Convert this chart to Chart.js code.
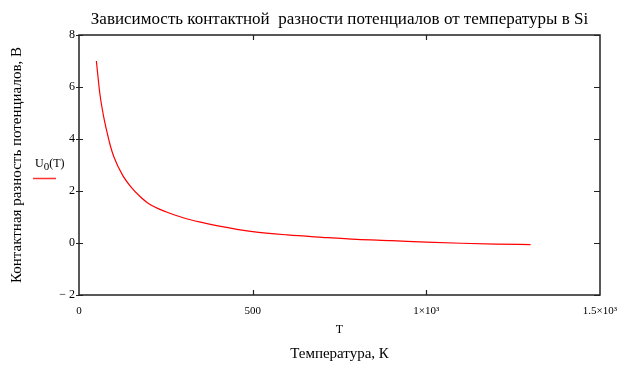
<!DOCTYPE html>
<html>
<head>
<meta charset="utf-8">
<script src="https://cdn.jsdelivr.net/npm/chart.js@4/dist/chart.umd.min.js"></script>
<style>
  html, body { margin: 0; padding: 0; background: #fff; }
  canvas { display: block; }
</style>
</head>
<body>
<canvas id="c" width="642" height="370"></canvas>
<script>
// ---- data ----
const temperatures = [50, 60, 70, 80, 90, 100, 125, 150, 175, 200, 250, 300, 350, 400, 500, 600, 700, 800, 900, 1000, 1100, 1200, 1300];
const u0Values     = [7.0, 5.75, 4.93, 4.3, 3.75, 3.33, 2.62, 2.15, 1.8, 1.52, 1.2, 0.97, 0.8, 0.66, 0.44, 0.31, 0.22, 0.14, 0.09, 0.03, -0.01, -0.04, -0.06];
const xTickValues  = [0, 500, 1000, 1500];
const xTickLabels  = ['0', '500', '1×10³', '1.5×10³'];
const yTickValues  = [-2, 0, 2, 4, 6, 8];
const yTickLabels  = ['− 2', '0', '2', '4', '6', '8'];
const chartTitle   = 'Зависимость контактной  разности потенциалов от температуры в Si';
const yAxisTitle   = 'Контактная разность потенциалов, В';
const xAxisVar     = 'T';
const xAxisTitle   = 'Температура, К';
const seriesLabel  = 'U0(T)';

const SERIF = '"Liberation Serif", "DejaVu Serif", serif';

const framePlugin = {
  id: 'frame',
  afterDraw(chart) {
    const { ctx, chartArea: a, scales } = chart;
    const xs = scales.x, ys = scales.y;
    ctx.save();
    // title centred over the plot area
    ctx.fillStyle = '#000';
    ctx.font = '17px ' + SERIF;
    ctx.textAlign = 'center';
    ctx.textBaseline = 'alphabetic';
    ctx.fillText(chartTitle, (a.left + a.right) / 2, 24);
    // frame
    ctx.strokeStyle = '#222';
    ctx.lineWidth = 1.5;
    ctx.strokeRect(a.left, a.top, a.right - a.left, a.bottom - a.top);
    ctx.lineWidth = 1.2;
    ctx.beginPath();
    yTickValues.forEach(v => {
      const y = Math.round(ys.getPixelForValue(v)) + 0.5;
      ctx.moveTo(a.left - 3, y); ctx.lineTo(a.left + 4, y);
      ctx.moveTo(a.right - 6, y); ctx.lineTo(a.right, y);
    });
    xTickValues.forEach(v => {
      if (v <= xs.min || v >= xs.max) return;
      const x = Math.round(xs.getPixelForValue(v)) + 0.5;
      ctx.moveTo(x, a.bottom); ctx.lineTo(x, a.bottom - 5);
      ctx.moveTo(x, a.top); ctx.lineTo(x, a.top + 5);
    });
    ctx.stroke();
    // legend: U with subscript 0, then (T)
    ctx.textAlign = 'left';
    let lx = 35;
    const by = 167;
    ctx.font = '12px ' + SERIF;
    ctx.fillText(seriesLabel.charAt(0), lx, by);
    lx += ctx.measureText(seriesLabel.charAt(0)).width;
    ctx.font = '11px ' + SERIF;
    ctx.fillText(seriesLabel.charAt(1), lx, by + 3);
    lx += ctx.measureText(seriesLabel.charAt(1)).width;
    ctx.font = '12px ' + SERIF;
    ctx.fillText(seriesLabel.slice(2), lx, by);
    ctx.strokeStyle = '#ff3030';
    ctx.lineWidth = 1.5;
    ctx.beginPath();
    ctx.moveTo(33, 178.5); ctx.lineTo(56, 178.5);
    ctx.stroke();
    ctx.restore();
  }
};

new Chart(document.getElementById('c'), {
  type: 'line',
  data: {
    datasets: [{
      label: seriesLabel,
      data: temperatures.map((t, i) => ({ x: t, y: u0Values[i] })),
      borderColor: '#ff0000',
      borderWidth: 1.2,
      pointRadius: 0,
      cubicInterpolationMode: 'monotone',
      fill: false
    }]
  },
  options: {
    responsive: false,
    animation: false,
    layout: { padding: { left: 0, right: 42, top: 35, bottom: 0 } },
    plugins: {
      legend: { display: false },
      tooltip: { enabled: false },
      title: { display: false }
    },
    scales: {
      x: {
        type: 'linear',
        position: 'bottom',
        min: 0, max: 1500,
        weight: 0,
        grid: { display: false, drawTicks: false },
        border: { display: false },
        afterBuildTicks(scale) { scale.ticks = xTickValues.map(v => ({ value: v })); },
        ticks: {
          padding: 10,
          maxRotation: 0,
          color: '#000',
          font: { family: SERIF, size: 11 },
          callback: (v) => xTickLabels[xTickValues.indexOf(v)]
        },
        title: {
          display: true, text: xAxisVar, color: '#000',
          font: { family: SERIF, size: 12 },
          padding: { top: 0, bottom: 3 }
        },
        afterFit(scale) { scale.height = 45; }
      },
      x2: {
        type: 'linear',
        position: 'bottom',
        min: 0, max: 1500,
        weight: 1,
        grid: { display: false, drawTicks: false },
        border: { display: false },
        ticks: { display: false },
        title: {
          display: true, text: xAxisTitle, color: '#000',
          font: { family: SERIF, size: 15 },
          padding: { top: 0, bottom: 7 }
        },
        afterFit(scale) { scale.height = 30; }
      },
      y: {
        type: 'linear',
        min: -2, max: 8,
        grid: { display: false, drawTicks: false },
        border: { display: false },
        afterBuildTicks(scale) { scale.ticks = yTickValues.map(v => ({ value: v })); },
        ticks: {
          padding: 4,
          color: '#000',
          font: { family: SERIF, size: 12 },
          callback: (v) => yTickLabels[yTickValues.indexOf(v)]
        },
        title: {
          display: true, text: yAxisTitle, color: '#000',
          font: { family: SERIF, size: 15 },
          padding: { top: 8, bottom: 0 }
        },
        afterFit(scale) { scale.width = 79; }
      }
    }
  },
  plugins: [framePlugin]
});
</script>
</body>
</html>
